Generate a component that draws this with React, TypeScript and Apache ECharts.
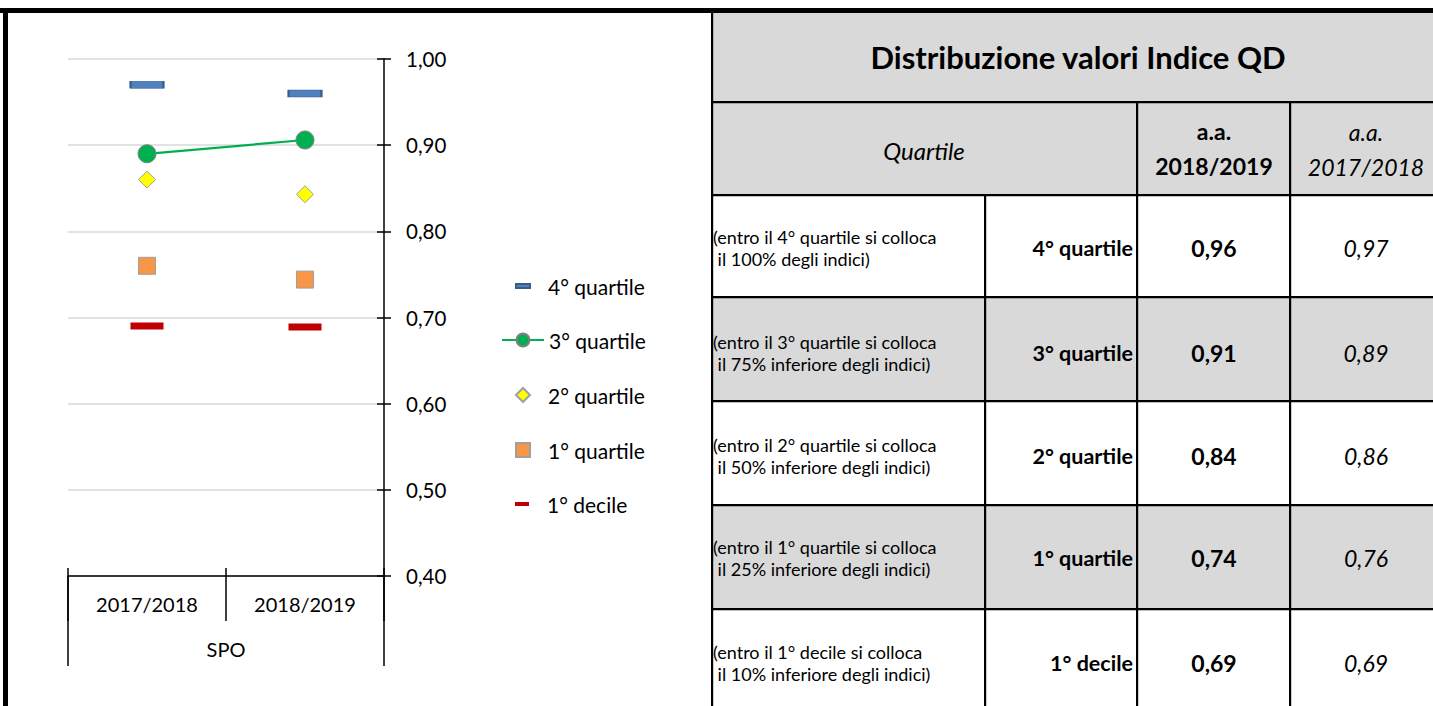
import React, { useEffect, useRef } from "react";
import * as echarts from "echarts";

// ---------- data ----------
const categories = ["2017/2018", "2018/2019"];
const groupLabels = ["SPO"];
const seriesNames = ["4° quartile", "3° quartile", "2° quartile", "1° quartile", "1° decile"];
const quartile4 = [0.97, 0.96];
const quartile3 = [0.89, 0.906];
const quartile2 = [0.86, 0.843];
const quartile1 = [0.76, 0.744];
const decile1 = [0.69, 0.689];
const yMin = 0.4;
const yMax = 1.0;
const yStep = 0.1;

const tableTitle = "Distribuzione valori Indice QD";
const headerQuartile = "Quartile";
const headerYearNew = ["a.a.", "2018/2019"];
const headerYearOld = ["a.a.", "2017/2018"];
const rowDescriptions = [
  ["(entro il 4° quartile si colloca", " il 100% degli indici)"],
  ["(entro il 3° quartile si colloca", " il 75% inferiore degli indici)"],
  ["(entro il 2° quartile si colloca", " il 50% inferiore degli indici)"],
  ["(entro il 1° quartile si colloca", " il 25% inferiore degli indici)"],
  ["(entro il 1° decile si colloca", " il 10% inferiore degli indici)"],
];
const rowLabels = seriesNames;
const allSeries = [quartile4, quartile3, quartile2, quartile1, decile1];

// ---------- helpers ----------
const FONT = "Lato, 'Open Sans', sans-serif";
const fmt = (v: number) => v.toFixed(2).replace(".", ",");

function buildTable(): any[] {
  const els: any[] = [];
  const L = 711;
  const R = 1433;
  const cDesc = 985;
  const cLabel = 1137;
  const cYear = 1290;
  const rowTops = [195, 297, 401, 505, 609, 706];
  const gray = "#d9d9d9";
  // backgrounds
  els.push({ type: "rect", shape: { x: L, y: 12, width: R - L, height: 183 }, style: { fill: gray }, silent: true });
  [1, 3].forEach((i) => {
    els.push({ type: "rect", shape: { x: L, y: rowTops[i], width: R - L, height: rowTops[i + 1] - rowTops[i] }, style: { fill: gray }, silent: true });
  });
  // outer frame
  els.push({ type: "rect", shape: { x: 0, y: 8, width: 1433, height: 5 }, style: { fill: "#000" }, silent: true });
  els.push({ type: "rect", shape: { x: 3, y: 8, width: 5, height: 698 }, style: { fill: "#000" }, silent: true });
  // horizontal lines
  [102, ...rowTops.slice(0, 5)].forEach((y) => {
    els.push({ type: "rect", shape: { x: L, y: y - 1, width: R - L, height: 2.2 }, style: { fill: "#000" }, silent: true });
  });
  // vertical lines
  els.push({ type: "rect", shape: { x: L, y: 12, width: 2.2, height: 694 }, style: { fill: "#000" }, silent: true });
  els.push({ type: "rect", shape: { x: cDesc - 1, y: 195, width: 2.2, height: 511 }, style: { fill: "#000" }, silent: true });
  els.push({ type: "rect", shape: { x: cLabel - 1, y: 102, width: 2.2, height: 604 }, style: { fill: "#000" }, silent: true });
  els.push({ type: "rect", shape: { x: cYear - 1, y: 102, width: 2.2, height: 604 }, style: { fill: "#000" }, silent: true });

  const txt = (text: string, x: number, y: number, size: number, weight: string, fstyle: string, align: string) => ({
    type: "text",
    silent: true,
    style: {
      text,
      x,
      y,
      fill: "#000",
      fontSize: size,
      fontWeight: weight,
      fontStyle: fstyle,
      fontFamily: FONT,
      align,
      verticalAlign: "middle",
      textAlign: align,
      textVerticalAlign: "middle",
    },
  });

  els.push(txt(tableTitle, 1078, 57, 31, "bold", "normal", "center"));
  els.push(txt(headerQuartile, 924, 150, 24, "normal", "italic", "center"));
  els.push(txt(headerYearNew[0], 1214, 131, 23, "bold", "normal", "center"));
  els.push(txt(headerYearNew[1], 1214, 166, 23, "bold", "normal", "center"));
  els.push(txt(headerYearOld[0], 1366, 132, 23, "normal", "italic", "center"));
  els.push(txt(headerYearOld[1], 1366, 167, 23, "normal", "italic", "center"));

  const centers = [248, 353, 456, 558, 663];
  rowLabels.forEach((lab, i) => {
    const cy = centers[i];
    els.push(txt(rowDescriptions[i][0], 713, cy - 11, 18, "normal", "normal", "left"));
    els.push(txt(rowDescriptions[i][1], 713, cy + 11, 18, "normal", "normal", "left"));
    els.push(txt(lab, 1133, cy, 21.5, "bold", "normal", "right"));
    els.push(txt(fmt(allSeries[i][1]), 1214, cy, 23, "bold", "normal", "center"));
    els.push(txt(fmt(allSeries[i][0]), 1366, cy, 23, "normal", "italic", "center"));
  });
  return els;
}

const axisLineStyle = { color: "#000", width: 1.5 };

function legendFor(name: string, top: number, opts: any) {
  return {
    data: [name],
    left: opts.left,
    top,
    orient: "vertical",
    selectedMode: false,
    itemWidth: opts.w,
    itemHeight: opts.h,
    icon: opts.icon,
    textStyle: {
      fontSize: 21,
      fontFamily: FONT,
      color: "#000",
      lineHeight: 24,
      padding: [0, 0, 0, opts.pad],
    },
  };
}

export default function App() {
  const ref = useRef<HTMLDivElement>(null);
  useEffect(() => {
    if (!ref.current) return;
    const chart = echarts.init(ref.current, undefined, { renderer: "svg" });
    const option: any = {
      animation: false,
      backgroundColor: "#fff",
      textStyle: { fontFamily: FONT },
      grid: { left: 68, top: 59, width: 316, height: 517, containLabel: false },
      xAxis: [
        {
          type: "category",
          data: categories,
          position: "bottom",
          boundaryGap: true,
          axisLine: { show: true, lineStyle: axisLineStyle },
          axisTick: { show: true, length: 45, lineStyle: axisLineStyle },
          axisLabel: { margin: 18, fontSize: 20, color: "#000", fontFamily: FONT },
          splitLine: { show: false },
        },
        {
          type: "category",
          data: categories,
          position: "bottom",
          boundaryGap: true,
          axisLine: { show: false },
          axisTick: { show: true, inside: true, length: 8, lineStyle: axisLineStyle },
          axisLabel: { show: false },
          splitLine: { show: false },
        },
        {
          type: "category",
          data: groupLabels,
          position: "bottom",
          boundaryGap: true,
          axisLine: { show: false },
          axisTick: { show: true, length: 90, lineStyle: axisLineStyle },
          axisLabel: { margin: 63, fontSize: 20, color: "#000", fontFamily: FONT },
          splitLine: { show: false },
        },
      ],
      yAxis: [
        {
          type: "value",
          position: "right",
          min: yMin,
          max: yMax,
          interval: yStep,
          axisLine: { show: true, lineStyle: axisLineStyle },
          axisTick: { show: true, length: 7, lineStyle: axisLineStyle },
          axisLabel: { margin: 22, fontSize: 20.5, color: "#000", fontFamily: FONT, formatter: (v: number) => fmt(v) },
          splitLine: { show: true, lineStyle: { color: "#d9d9d9", width: 1.5 } },
        },
        {
          type: "value",
          position: "right",
          min: yMin,
          max: yMax,
          interval: yStep,
          axisLine: { show: false },
          axisTick: { show: true, inside: true, length: 7, lineStyle: axisLineStyle },
          axisLabel: { show: false },
          splitLine: { show: false },
        },
      ],
      legend: [
        legendFor(seriesNames[0], 269, { left: 510, w: 14, h: 4, icon: "rect", pad: 13 }),
        legendFor(seriesNames[1], 323, { left: 496, w: 42, h: 16, icon: undefined, pad: 0 }),
        legendFor(seriesNames[2], 378, { left: 510, w: 14, h: 14, icon: "diamond", pad: 13 }),
        legendFor(seriesNames[3], 433, { left: 510, w: 14, h: 14, icon: "rect", pad: 13 }),
        legendFor(seriesNames[4], 487, { left: 510, w: 14, h: 4, icon: "rect", pad: 13 }),
      ],
      series: [
        {
          name: seriesNames[0],
          type: "scatter",
          data: quartile4,
          symbol: "rect",
          symbolSize: [33, 7],
          itemStyle: { color: "#4f81bd", borderColor: "#385d8a", borderWidth: 1, opacity: 1 },
          z: 3,
        },
        {
          name: seriesNames[1],
          type: "line",
          data: quartile3,
          symbol: "circle",
          symbolSize: 18,
          showSymbol: true,
          itemStyle: { color: "#00b050", borderColor: "#808080", borderWidth: 1, opacity: 1 },
          lineStyle: { color: "#00b050", width: 2.25 },
          z: 4,
        },
        {
          name: seriesNames[2],
          type: "scatter",
          data: quartile2,
          symbol: "diamond",
          symbolSize: 17,
          itemStyle: { color: "#ffff00", borderColor: "#a0a0a0", borderWidth: 1, opacity: 1 },
          z: 3,
        },
        {
          name: seriesNames[3],
          type: "scatter",
          data: quartile1,
          symbol: "rect",
          symbolSize: 17,
          itemStyle: { color: "#f79646", borderColor: "#a0a0a0", borderWidth: 1, opacity: 1 },
          z: 3,
        },
        {
          name: seriesNames[4],
          type: "scatter",
          data: decile1,
          symbol: "rect",
          symbolSize: [33, 7],
          itemStyle: { color: "#c00000", opacity: 1 },
          z: 3,
        },
      ],
      graphic: buildTable(),
    };
    chart.setOption(option);
    return () => chart.dispose();
  }, []);
  return (
    <div
      ref={ref}
      style={{ position: "fixed", left: 0, top: 0, width: 1433, height: 706, background: "#fff" }}
    />
  );
}
